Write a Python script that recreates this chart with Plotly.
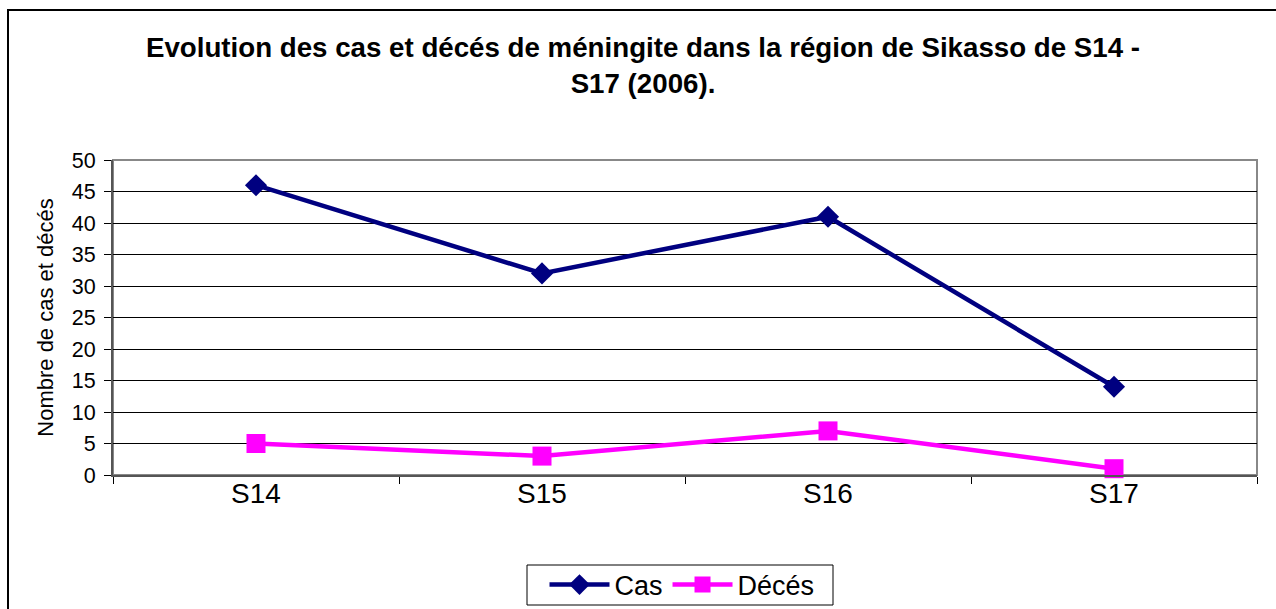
import plotly.graph_objects as go

categories = ["S14", "S15", "S16", "S17"]
cas = [46, 32, 41, 14]
deces = [5, 3, 7, 1]
y_ticks = [0, 5, 10, 15, 20, 25, 30, 35, 40, 45, 50]

W, H = 1276, 609
PX0, PX1, PY0, PY1 = 113, 1257, 160, 475
L = PX0
T = PY0
R = W - PX1
B = H - PY1
pw, ph = PX1 - PX0, PY1 - PY0

def px_x(x):
    return (x - PX0) / pw

def px_y(y):
    return (PY1 - y) / ph

fig = go.Figure()
fig.add_trace(go.Scatter(
    x=categories, y=cas, name="Cas", mode="lines+markers",
    line=dict(color="#000080", width=4.5),
    marker=dict(symbol="diamond", size=17, color="#000080"),
    cliponaxis=False,
))
fig.add_trace(go.Scatter(
    x=categories, y=deces, name="Décés", mode="lines+markers",
    line=dict(color="#FF00FF", width=4.5),
    marker=dict(symbol="square", size=19, color="#FF00FF"),
    cliponaxis=False,
))

font_family = "Liberation Sans, Arial, sans-serif"

fig.update_layout(
    width=W, height=H,
    margin=dict(l=L, r=R, t=T, b=B, pad=0, autoexpand=False),
    paper_bgcolor="white", plot_bgcolor="white",
    font=dict(family=font_family, color="black"),
    title=dict(
        text="<b>Evolution des cas et décés de méningite dans la région de Sikasso de S14 -<br>S17 (2006).</b>",
        x=px_x(643), xanchor="center", xref="paper", y=1 - 57 / H, yanchor="top",
        font=dict(size=27.7, family=font_family, color="black"),
    ),
    showlegend=True,
    legend=dict(
        orientation="h", x=px_x(682), xanchor="center", y=px_y(585), yanchor="middle",
        borderwidth=0, bgcolor="rgba(0,0,0,0)",
        font=dict(size=27, family=font_family, color="black"),
        itemwidth=60, tracegroupgap=0,
    ),
    xaxis=dict(
        type="category", range=[-0.5, 3.5], tickson="boundaries",
        ticks="outside", ticklen=7, tickcolor="black", tickwidth=1,
        showline=True, linecolor="#555555", linewidth=2, mirror=False,
        showgrid=False, zeroline=False, automargin=False,
        ticklabelstandoff=-8,
        tickfont=dict(size=28, family=font_family, color="black"),
    ),
    yaxis=dict(
        range=[0, 50], tickvals=y_ticks, ticks="outside", ticklen=7,
        tickcolor="black", tickwidth=1,
        showline=True, linecolor="#555555", linewidth=2,
        showgrid=True, gridcolor="black", gridwidth=1, zeroline=False,
        automargin=False, ticklabelstandoff=4,
        tickfont=dict(size=21.5, family=font_family, color="black"),
        title=dict(text="Nombre de cas et décés", standoff=12,
                   font=dict(size=22, family=font_family, color="black")),
    ),
    shapes=[
        dict(type="rect", xref="paper", yref="paper", x0=0, x1=1, y0=0, y1=1,
             line=dict(color="#888888", width=2), layer="below"),
        dict(type="rect", xref="paper", yref="paper",
             x0=px_x(8), x1=px_x(1300), y0=px_y(10), y1=px_y(640),
             line=dict(color="black", width=2)),
        dict(type="rect", xref="paper", yref="paper",
             x0=px_x(527), x1=px_x(833), y0=px_y(565), y1=px_y(605),
             line=dict(color="black", width=1), fillcolor="white", layer="below"),
    ],
)

fig.write_html("out.html", config={"displayModeBar": False},
               post_script="document.body.style.margin='0px';")
